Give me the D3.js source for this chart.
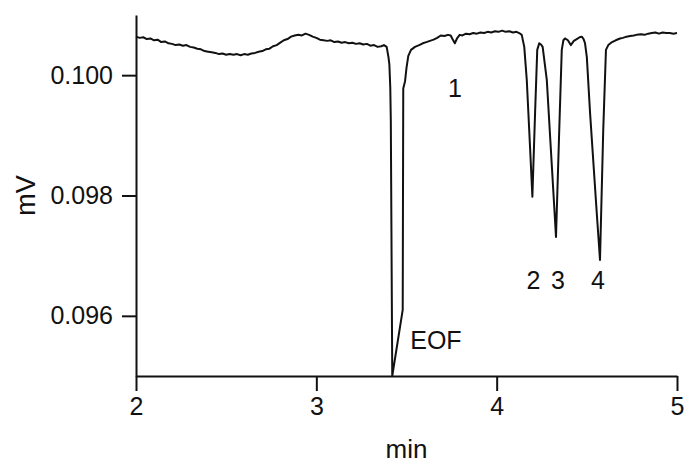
<!DOCTYPE html>
<html>
<head>
<meta charset="utf-8">
<script src="https://cdn.jsdelivr.net/npm/d3@7/dist/d3.min.js"></script>
<style>
  html, body { margin: 0; padding: 0; background: #fff; }
  svg { display: block; }
  text { font-family: "Liberation Sans", Arial, sans-serif; fill: #111; }
</style>
</head>
<body>
<svg id="chart" width="686" height="463"></svg>
<script>
// Electropherogram trace: [time (min), detector signal (mV)]
const trace = [
  [2.000, 0.10064], [2.020, 0.10062], [2.040, 0.10063], [2.060, 0.10060], [2.080, 0.10061],
  [2.100, 0.10058], [2.120, 0.10059], [2.140, 0.10055], [2.160, 0.10056], [2.180, 0.10053],
  [2.200, 0.10052], [2.220, 0.10050], [2.240, 0.10051], [2.260, 0.10049], [2.280, 0.10050],
  [2.300, 0.10047], [2.320, 0.10046], [2.340, 0.10044], [2.360, 0.10043], [2.380, 0.10040],
  [2.400, 0.10039], [2.420, 0.10038], [2.440, 0.10037], [2.460, 0.10035], [2.480, 0.10036],
  [2.500, 0.10034], [2.520, 0.10035], [2.540, 0.10034], [2.560, 0.10035], [2.580, 0.10033],
  [2.600, 0.10035], [2.620, 0.10034], [2.640, 0.10036], [2.660, 0.10037], [2.680, 0.10039],
  [2.700, 0.10040], [2.720, 0.10043], [2.740, 0.10044], [2.760, 0.10048], [2.780, 0.10050],
  [2.800, 0.10054], [2.820, 0.10058], [2.840, 0.10060], [2.860, 0.10064], [2.880, 0.10066],
  [2.900, 0.10067], [2.920, 0.10066], [2.940, 0.10069], [2.960, 0.10067], [2.980, 0.10064],
  [3.000, 0.10062], [3.020, 0.10059], [3.040, 0.10058], [3.060, 0.10057], [3.080, 0.10058],
  [3.100, 0.10055], [3.120, 0.10056], [3.140, 0.10054], [3.160, 0.10055], [3.180, 0.10053],
  [3.200, 0.10054], [3.220, 0.10052], [3.240, 0.10053], [3.260, 0.10051], [3.280, 0.10052],
  [3.300, 0.10049], [3.320, 0.10050], [3.340, 0.10047], [3.360, 0.10048], [3.375, 0.10050],
  [3.390, 0.10047], [3.400, 0.10030], [3.405, 0.10018], [3.410, 0.09980], [3.413, 0.09925],
  [3.421, 0.09500], [3.479, 0.09610], [3.482, 0.09978], [3.492, 0.09990], [3.500, 0.10012],
  [3.510, 0.10032], [3.525, 0.10042], [3.547, 0.10047], [3.570, 0.10050], [3.590, 0.10053],
  [3.610, 0.10055], [3.630, 0.10057], [3.650, 0.10059], [3.670, 0.10062], [3.690, 0.10066],
  [3.710, 0.10065], [3.730, 0.10067], [3.745, 0.10066], [3.755, 0.10060], [3.768, 0.10053],
  [3.780, 0.10061], [3.795, 0.10067], [3.810, 0.10066], [3.830, 0.10069], [3.850, 0.10068],
  [3.870, 0.10070], [3.890, 0.10069], [3.910, 0.10071], [3.930, 0.10070], [3.950, 0.10072],
  [3.970, 0.10071], [3.990, 0.10073], [4.010, 0.10072], [4.030, 0.10074], [4.050, 0.10072],
  [4.070, 0.10073], [4.090, 0.10071], [4.110, 0.10072], [4.125, 0.10070], [4.139, 0.10067],
  [4.153, 0.10047], [4.167, 0.09992], [4.185, 0.09881], [4.198, 0.09798], [4.213, 0.09937],
  [4.225, 0.10042], [4.236, 0.10053], [4.246, 0.10051], [4.255, 0.10047], [4.278, 0.09992],
  [4.305, 0.09854], [4.329, 0.09731], [4.347, 0.09909], [4.361, 0.10042], [4.370, 0.10058],
  [4.379, 0.10061], [4.395, 0.10058], [4.411, 0.10050], [4.428, 0.10057], [4.444, 0.10060],
  [4.460, 0.10063], [4.472, 0.10064], [4.482, 0.10060], [4.490, 0.10053], [4.500, 0.10030],
  [4.518, 0.09937], [4.555, 0.09771], [4.573, 0.09693], [4.591, 0.09909], [4.606, 0.10042],
  [4.619, 0.10050], [4.640, 0.10055], [4.660, 0.10058], [4.684, 0.10061], [4.700, 0.10062],
  [4.720, 0.10064], [4.740, 0.10065], [4.760, 0.10066], [4.776, 0.10067], [4.800, 0.10068],
  [4.820, 0.10067], [4.840, 0.10069], [4.860, 0.10070], [4.880, 0.10071], [4.900, 0.10069],
  [4.920, 0.10071], [4.940, 0.10070], [4.960, 0.10070], [4.980, 0.10069], [5.000, 0.10070]
];

const xDomain = [2, 5];
const yDomain = [0.095, 0.101];
const xTicks = [2, 3, 4, 5];
const yTicks = [0.096, 0.098, 0.100];

// Peak annotations: label and migration time of the peak
const peakNames = ["EOF", "1", "2", "3", "4"];
const peakTimes = [3.421, 3.769, 4.198, 4.329, 4.573];

const svg = d3.select("#chart");
const margin = { left: 136, right: 9, top: 15, bottom: 87 };
const W = +svg.attr("width"), H = +svg.attr("height");

svg.append("rect").attr("width", W).attr("height", H).attr("fill", "#fff");

const x = d3.scaleLinear().domain(xDomain).range([margin.left, W - margin.right]);
const y = d3.scaleLinear().domain(yDomain).range([H - margin.bottom, margin.top]);

// Axes
const gx = svg.append("g")
  .attr("transform", `translate(0,${H - margin.bottom})`)
  .call(d3.axisBottom(x).tickValues(xTicks).tickFormat(d3.format("d"))
    .tickSize(15).tickSizeOuter(0).tickPadding(6));

const gy = svg.append("g")
  .attr("transform", `translate(${margin.left},0)`)
  .call(d3.axisLeft(y).tickValues(yTicks).tickFormat(d3.format(".3f"))
    .tickSize(14).tickSizeOuter(0).tickPadding(9));

[gx, gy].forEach(g => {
  g.select(".domain").attr("stroke", "#111").attr("stroke-width", 2);
  g.selectAll(".tick line").attr("stroke", "#111").attr("stroke-width", 2);
  g.selectAll(".tick text").attr("font-size", 25)
    .attr("font-family", "'Liberation Sans', Arial, sans-serif").attr("fill", "#111");
});

// Axis titles
svg.append("text")
  .attr("x", (x(2) + x(5)) / 2)
  .attr("y", H - 5)
  .attr("text-anchor", "middle")
  .attr("font-size", 26)
  .text("min");

svg.append("text")
  .attr("transform", `translate(35,${y(0.098)}) rotate(-90)`)
  .attr("text-anchor", "middle")
  .attr("font-size", 27)
  .text("mV");

// Signal trace
const line = d3.line().x(d => x(d[0])).y(d => y(d[1]));
svg.append("path")
  .datum(trace)
  .attr("fill", "none")
  .attr("stroke", "#111")
  .attr("stroke-width", 2)
  .attr("stroke-linejoin", "round")
  .attr("d", line);

// Peak labels
const labelLayout = {
  "EOF": { dx: 18, y: 349, anchor: "start" },
  "1":   { dx: 0,  y: 97,  anchor: "middle" },
  "2":   { dx: 1,  y: 289, anchor: "middle" },
  "3":   { dx: 2,  y: 289, anchor: "middle" },
  "4":   { dx: -2, y: 289, anchor: "middle" }
};
peakNames.forEach((name, i) => {
  const L = labelLayout[name];
  svg.append("text")
    .attr("x", x(peakTimes[i]) + L.dx)
    .attr("y", L.y)
    .attr("text-anchor", L.anchor)
    .attr("font-size", 25)
    .text(name);
});
</script>
</body>
</html>
